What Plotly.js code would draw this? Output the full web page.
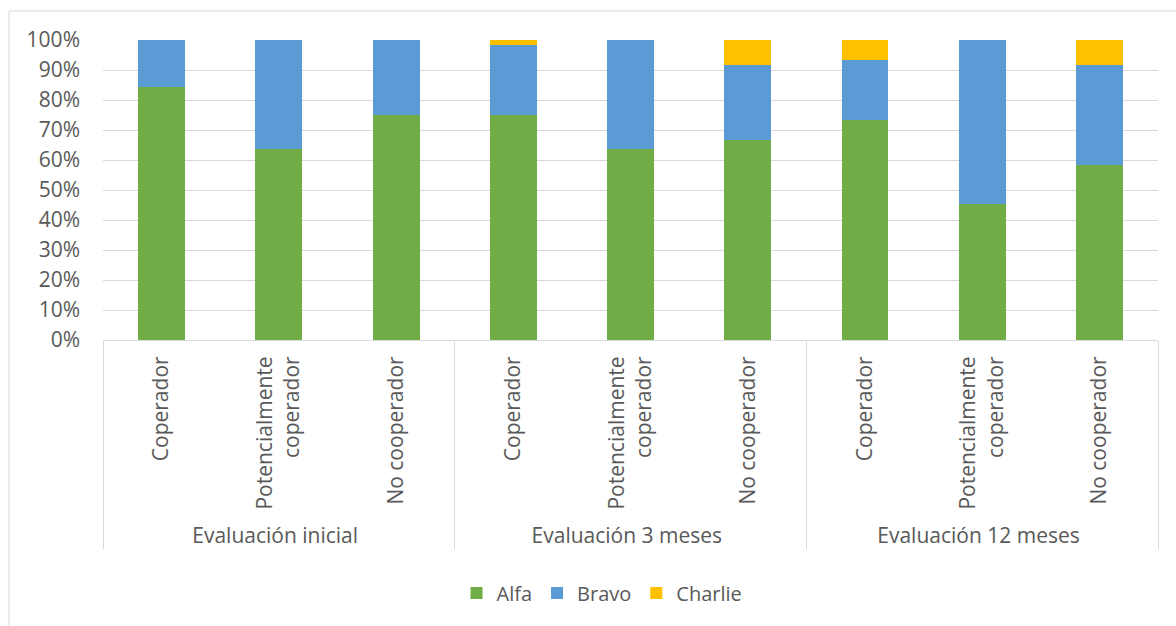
<!DOCTYPE html>
<html>
<head>
<meta charset="utf-8">
<script src="https://cdn.plot.ly/plotly-3.0.1.min.js"></script>
<style>
  html, body { margin: 0; padding: 0; background: #ffffff; }
  #chart { width: 1176px; height: 626px; }
</style>
</head>
<body>
<div id="chart"></div>
<script>
// Evaluation stage (outer category level) and cooperation profile (inner level)
const stages = [
  'Evaluación inicial', 'Evaluación inicial', 'Evaluación inicial',
  'Evaluación 3 meses', 'Evaluación 3 meses', 'Evaluación 3 meses',
  'Evaluación 12 meses', 'Evaluación 12 meses', 'Evaluación 12 meses'
];
const profiles = [
  'Coperador', 'Potencialmente<br>coperador', 'No cooperador',
  'Coperador', 'Potencialmente<br>coperador', 'No cooperador',
  'Coperador', 'Potencialmente<br>coperador', 'No cooperador'
];

// Share of each outcome (%) per stage and profile
const alfa    = [84.2, 63.6, 75.0, 75.0, 63.6, 66.7, 73.3, 45.5, 58.3];
const bravo   = [15.8, 36.4, 25.0, 23.2, 36.4, 25.0, 20.0, 54.5, 33.3];
const charlie = [ 0.0,  0.0,  0.0,  1.8,  0.0,  8.3,  6.7,  0.0,  8.3];

const seriesNames = ['Alfa', 'Bravo', 'Charlie'];
const seriesColors = ['#70ad47', '#5b9bd5', '#ffc000'];
const seriesValues = [alfa, bravo, charlie];

const yTicks = [0, 10, 20, 30, 40, 50, 60, 70, 80, 90, 100];

const textColor = '#595959';
const gridColor = '#d9d9d9';
const fontFamily = '"Open Sans", "Noto Sans", sans-serif';

const traces = seriesNames.map((name, i) => ({
  type: 'bar',
  name: name,
  x: [stages, profiles],
  y: seriesValues[i],
  marker: { color: seriesColors[i], line: { width: 0 } },
  hovertemplate: '%{y:.1f}%<extra>' + name + '</extra>'
}));

const layout = {
  width: 1176,
  height: 626,
  paper_bgcolor: '#ffffff',
  plot_bgcolor: '#ffffff',
  margin: { l: 103, r: 18, t: 40, b: 286, pad: 0 },
  font: { family: fontFamily, size: 20, color: textColor },
  barmode: 'stack',
  bargap: 0.6,
  showlegend: true,
  legend: {
    orientation: 'h',
    x: 0.473, xanchor: 'center',
    y: -0.843, yanchor: 'middle',
    font: { family: fontFamily, size: 20, color: textColor },
    traceorder: 'normal',
    itemwidth: 30,
    bgcolor: 'rgba(0,0,0,0)'
  },
  xaxis: {
    type: 'multicategory',
    showline: true,
    linecolor: gridColor,
    linewidth: 1,
    ticks: '',
    tickangle: -90,
    ticklabelstandoff: 7,
    tickfont: { family: fontFamily, size: 21, color: textColor },
    showdividers: true,
    dividercolor: gridColor,
    dividerwidth: 1,
    showgrid: false,
    zeroline: false
  },
  yaxis: {
    range: [0, 100],
    tickvals: yTicks,
    ticktext: yTicks.map(v => v + '%'),
    showgrid: true,
    gridcolor: gridColor,
    gridwidth: 1,
    zeroline: false,
    showline: false,
    ticks: '',
    ticklabelstandoff: 22,
    tickfont: { family: fontFamily, size: 21, color: textColor },
    fixedrange: true
  },
  shapes: [
    {
      type: 'rect', xref: 'paper', yref: 'paper',
      x0: -0.0891, x1: 1.2, y0: -1.5, y1: 1.0967,
      line: { color: gridColor, width: 1 },
      fillcolor: 'rgba(0,0,0,0)',
      layer: 'below'
    }
  ]
};

Plotly.newPlot('chart', traces, layout, { displayModeBar: false, staticPlot: true });
</script>
</body>
</html>
